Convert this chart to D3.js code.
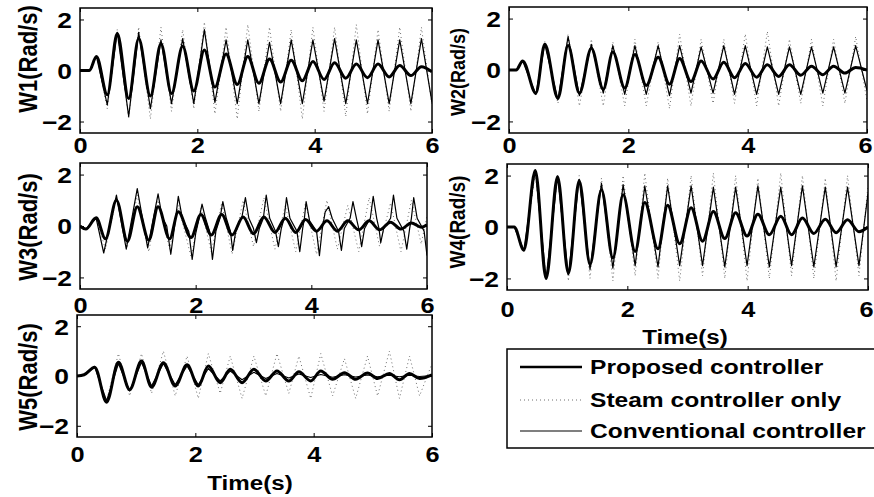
<!DOCTYPE html>
<html>
<head>
<meta charset="utf-8">
<script src="https://cdn.jsdelivr.net/npm/d3@7"></script>
<style>
  html, body { margin: 0; padding: 0; background: #fff; }
  svg { display: block; }
  text { font-family: "Liberation Sans", Arial, sans-serif; font-weight: bold; fill: #000; }
</style>
</head>
<body>
<svg id="chart" width="874" height="497"></svg>
<script>
// ---- data: rotor speed deviations, extrema of each oscillation ----
const xTicks = [0, 2, 4, 6];
const yTicks = [-2, 0, 2];
const seriesNames = ["Proposed controller", "Steam controller only", "Conventional controller"];

const tW1 = [0, 0.16, 0.28, 0.465, 0.635, 0.83, 1.0, 1.2, 1.38, 1.56, 1.75, 1.94, 2.12, 2.3, 2.49, 2.68, 2.86, 3.05, 3.23, 3.42,
  3.6, 3.79, 3.97, 4.16, 4.34, 4.53, 4.71, 4.9, 5.08, 5.27, 5.45, 5.64, 5.82, 6.0];
const w1Proposed = [0, 0, 0.55, -0.95, 1.45, -1.1, 1.25, -1.0, 1.05, -0.9, 0.95, -0.8, 0.8, -0.65, 0.65, -0.55, 0.55, -0.5, 0.45, -0.45,
  0.4, -0.4, 0.35, -0.35, 0.3, -0.3, 0.25, -0.28, 0.25, -0.25, 0.2, -0.2, 0.15, -0.05];
const w1Steam = [0, 0, 0.6, -1.5, 1.6, -1.9, 1.7, -1.9, 1.7, -1.6, 1.6, -1.5, 1.9, -1.7, 1.7, -1.9, 1.8, -1.6, 1.7, -1.6,
  1.6, -1.9, 1.7, -1.6, 1.7, -1.8, 1.8, -1.7, 1.6, -1.6, 1.7, -1.6, 1.7, -1.4];
const w1Conventional = [0, 0, 0.55, -1.35, 1.5, -1.8, 1.5, -1.5, 1.2, -1.3, 1.25, -1.3, 1.6, -1.25, 1.2, -1.3, 1.2, -1.3, 1.1, -1.3,
  1.2, -1.3, 1.2, -1.2, 1.25, -1.3, 1.2, -1.3, 1.2, -1.3, 1.2, -1.3, 1.25, -1.25];

const tW2 = [0, 0.12, 0.23, 0.45, 0.6, 0.82, 0.99, 1.18, 1.38, 1.58, 1.74, 1.94, 2.11, 2.3, 2.5, 2.69, 2.86, 3.05, 3.22, 3.42,
  3.6, 3.78, 3.96, 4.15, 4.33, 4.52, 4.7, 4.89, 5.07, 5.26, 5.44, 5.63, 5.81, 6.0];
const w2Proposed = [0, 0, 0.35, -0.9, 1.0, -1.1, 0.95, -0.9, 0.85, -0.75, 0.7, -0.7, 0.6, -0.6, 0.5, -0.55, 0.45, -0.45, 0.35, -0.35,
  0.3, -0.3, 0.25, -0.28, 0.2, -0.25, 0.2, -0.2, 0.15, -0.18, 0.15, -0.12, 0.1, 0];
const w2Steam = [0, 0, 0.4, -1.0, 1.1, -1.3, 1.4, -1.4, 1.2, -1.4, 1.1, -1.4, 1.2, -1.4, 1.1, -1.5, 1.4, -1.4, 1.2, -1.3,
  1.2, -1.3, 1.4, -1.4, 1.5, -1.4, 1.2, -1.3, 1.2, -1.4, 1.2, -1.3, 1.3, -1.2];
const w2Conventional = [0, 0, 0.35, -0.95, 1.0, -1.15, 1.3, -1.0, 1.0, -0.9, 0.95, -0.95, 0.95, -0.95, 0.95, -1.0, 0.95, -0.9, 0.9, -0.9,
  0.95, -0.95, 0.95, -0.95, 0.9, -0.95, 0.9, -0.95, 0.9, -0.9, 0.9, -0.9, 0.95, -0.8];

const tW3 = [0, 0.1, 0.28, 0.44, 0.63, 0.82, 0.99, 1.19, 1.35, 1.55, 1.7, 1.92, 2.09, 2.27, 2.45, 2.63, 2.82, 3.0, 3.18, 3.37,
  3.55, 3.73, 3.9, 4.09, 4.27, 4.45, 4.63, 4.82, 5.0, 5.18, 5.37, 5.55, 5.73, 5.9, 6.0];
const w3Proposed = [0, -0.12, 0.32, -0.5, 1.0, -0.6, 0.75, -0.55, 0.75, -0.5, 0.55, -0.45, 0.45, -0.35, 0.45, -0.35, 0.35, -0.3, 0.35, -0.25,
  0.3, -0.25, 0.25, -0.2, 0.2, -0.2, 0.2, -0.15, 0.2, -0.15, 0.15, -0.12, 0.12, -0.05, 0.05];
const w3Steam = [0, -0.1, 0.3, -0.9, 1.1, -0.8, 1.2, -1.0, 1.0, -0.9, 0.8, -1.2, 0.7, -1.0, 0.9, -1.1, 1.0, -0.8, 1.1, -0.9,
  0.8, -1.0, 0.9, -1.1, 1.0, -0.9, 0.8, -1.0, 1.1, -0.8, 0.9, -1.0, 1.0, -0.7, 0.4];
// the conventional response in W3 is spiky, so it keeps its own sample times
const tW3Conv = [0, 0.1, 0.28, 0.41, 0.63, 0.8, 0.99, 1.17, 1.35,
  1.42, 1.5, 1.57, 1.63, 1.7, 1.77, 1.88, 1.94, 2.0, 2.06, 2.11, 2.17, 2.24, 2.29, 2.35, 2.42, 2.47, 2.53, 2.6, 2.64, 2.7,
  2.8, 2.86, 2.92, 3.0, 3.05, 3.1, 3.17, 3.22, 3.28, 3.38, 3.43, 3.48, 3.53, 3.57, 3.63, 3.75, 3.8, 3.85, 3.88, 3.91,
  3.97, 4.09, 4.14, 4.19, 4.24, 4.3, 4.36, 4.47, 4.52, 4.57, 4.67, 4.72, 4.78, 4.83, 4.87, 4.92, 5.02, 5.07, 5.13, 5.17,
  5.2, 5.25, 5.37, 5.42, 5.48, 5.6, 5.65, 5.7, 5.73, 5.77, 5.83, 5.95, 6.0];
const w3Conventional = [0, -0.12, 0.3, -1.05, 1.2, -0.9, 1.45, -0.85, 1.25,
  0.35, 0.0, -1.1, -0.1, 1.15, 0.3, -0.2, -1.3, -0.3, 0.3, 0.85, 0.3, -0.2, -1.3, -0.2, 0.3, 0.95, 0.3, -0.2, -0.95, -0.1,
  0.35, 1.1, 0.3, -0.1, -0.65, -0.1, 0.3, 1.2, 0.3, -0.2, -0.8, -0.1, 0.3, 1.1, 0.3, -0.2, -1.0, -0.1, 0.3, 0.95,
  0.2, -0.2, -1.15, -0.1, 0.55, 0.75, 0.3, -0.2, -0.95, -0.1, 0.3, 0.95, 0.3, -0.2, -0.8, -0.1, 0.3, 1.15, 0.3, -0.1,
  -0.65, -0.1, 0.3, 1.2, 0.3, -0.2, -0.9, -0.1, 0.3, 1.1, 0.3, -0.2, -1.15];

const tW4 = [0, 0.12, 0.28, 0.47, 0.65, 0.84, 1.02, 1.2, 1.38, 1.57, 1.76, 1.93, 2.13, 2.29, 2.51, 2.67, 2.87, 3.06, 3.25, 3.43,
  3.62, 3.8, 3.99, 4.17, 4.36, 4.55, 4.73, 4.91, 5.1, 5.29, 5.47, 5.66, 5.85, 6.0];
const w4Proposed = [0, 0, -0.9, 2.2, -2.0, 1.95, -1.8, 1.8, -1.45, 1.45, -1.2, 1.25, -0.95, 0.95, -0.85, 0.85, -0.65, 0.75, -0.55, 0.6,
  -0.45, 0.55, -0.35, 0.5, -0.3, 0.42, -0.3, 0.35, -0.25, 0.3, -0.22, 0.28, -0.18, 0.0];
const w4Steam = [0, 0, -1.0, 2.1, -2.0, 2.0, -2.1, 2.0, -2.0, 1.9, -2.1, 2.0, -1.9, 2.1, -2.0, 1.9, -2.1, 2.0, -1.9, 2.1,
  -2.0, 2.0, -2.1, 1.9, -2.0, 2.1, -1.9, 2.0, -2.0, 1.9, -2.1, 2.0, -1.9, 1.6];
const w4Conventional = [0, 0, -0.9, 2.2, -2.0, 1.95, -1.85, 1.85, -1.65, 1.7, -1.6, 1.65, -1.5, 1.6, -1.55, 1.6, -1.5, 1.6, -1.5, 1.55,
  -1.55, 1.55, -1.5, 1.6, -1.55, 1.55, -1.5, 1.6, -1.55, 1.55, -1.55, 1.55, -1.5, 1.3];

const tW5 = [0, 0.12, 0.3, 0.5, 0.7, 0.89, 1.09, 1.26, 1.46, 1.66, 1.86, 2.05, 2.22, 2.42, 2.59, 2.79, 2.99, 3.19, 3.38, 3.58,
  3.75, 3.95, 4.12, 4.32, 4.52, 4.71, 4.91, 5.08, 5.28, 5.45, 5.62, 5.79, 6.0];
const w5Proposed = [0, 0.05, 0.35, -1.05, 0.55, -0.55, 0.6, -0.45, 0.53, -0.4, 0.45, -0.4, 0.4, -0.27, 0.27, -0.27, 0.27, -0.2, 0.2, -0.2,
  0.17, -0.2, 0.2, -0.13, 0.13, -0.13, 0.12, -0.1, 0.1, -0.15, 0.1, -0.1, 0.05];
const w5Steam = [0, 0.05, 0.4, -1.0, 0.9, -0.8, 0.9, -0.7, 1.0, -0.8, 0.8, -0.9, 0.9, -0.7, 0.8, -0.9, 0.8, -0.8, 0.9, -0.7,
  0.8, -0.9, 0.9, -0.8, 0.7, -0.9, 0.8, -0.8, 1.0, -0.9, 0.8, -0.8, 0.5];
const w5Conventional = [0, 0.05, 0.35, -1.0, 0.5, -0.6, 0.55, -0.4, 0.5, -0.35, 0.4, -0.35, 0.3, -0.2, 0.2, -0.15, 0.15, -0.1, 0.1, -0.08,
  0.08, -0.06, 0.06, -0.05, 0.05, -0.04, 0.04, -0.03, 0.03, -0.03, 0.03, -0.02, 0.02];

// ---- layout ----
const svg = d3.select("#chart");
svg.append("rect").attr("width", 874).attr("height", 497).attr("fill", "#fff");

const panels = [
  { id: "p1", label: "W1(Rad/s)", box: [80, 432, 8, 133], tickLabY: 153, lab: [28, 59, 22],
    series: [[tW1, w1Steam], [tW1, w1Conventional], [tW1, w1Proposed]] },
  { id: "p2", label: "W2(Rad/s)", box: [509, 867, 7, 133], tickLabY: 153, lab: [458, 72, 18], edge: true,
    series: [[tW2, w2Steam], [tW2, w2Conventional], [tW2, w2Proposed]] },
  { id: "p3", label: "W3(Rad/s)", box: [80, 427, 163, 289], tickLabY: 313, lab: [28, 227, 22],
    series: [[tW3, w3Steam], [tW3Conv, w3Conventional], [tW3, w3Proposed]] },
  { id: "p4", label: "W4(Rad/s)", box: [507, 868, 164, 290], tickLabY: 317, lab: [457, 222, 19], xTitle: [685, 337], edge: true,
    series: [[tW4, w4Steam], [tW4, w4Conventional], [tW4, w4Proposed]] },
  { id: "p5", label: "W5(Rad/s)", box: [77, 432, 315, 437], tickLabY: 462, lab: [28, 377, 22], xTitle: [250, 483],
    series: [[tW5, w5Steam], [tW5, w5Conventional], [tW5, w5Proposed]] }
];

// stroke styles for steam / conventional / proposed
const styles = [
  { stroke: "#6e6e6e", width: 1, dash: "1,3", curve: d3.curveLinear },
  { stroke: "#000", width: 1.2, dash: null, curve: d3.curveLinear },
  { stroke: "#000", width: 3, dash: null, curve: d3.curveMonotoneX }
];

const defs = svg.append("defs");

panels.forEach(p => {
  const [x0, x1, y0, y1] = p.box;
  const x = d3.scaleLinear().domain([0, 6]).range([x0, x1]);
  const y = d3.scaleLinear().domain([-2.45, 2.45]).range([y1, y0]);
  const g = svg.append("g");

  defs.append("clipPath").attr("id", "clip-" + p.id)
    .append("rect").attr("x", x0).attr("y", y0).attr("width", x1 - x0).attr("height", y1 - y0);

  const plot = g.append("g").attr("clip-path", `url(#clip-${p.id})`);
  p.series.forEach(([ts, vs], i) => {
    const st = styles[i];
    const line = d3.line().x(d => x(d[0])).y(d => y(d[1])).curve(st.curve);
    plot.append("path")
      .attr("d", line(ts.map((t, k) => [t, vs[k]])))
      .attr("fill", "none")
      .attr("stroke", st.stroke)
      .attr("stroke-width", st.width)
      .attr("stroke-dasharray", st.dash)
      .attr("stroke-linejoin", "round");
  });

  // inward ticks on all four sides
  const bottom = g.append("g").attr("transform", `translate(0,${y1})`)
    .call(d3.axisBottom(x).tickValues(xTicks).tickSizeInner(-4).tickSizeOuter(0).tickFormat(d3.format("d")));
  g.append("g").attr("transform", `translate(0,${y0})`)
    .call(d3.axisTop(x).tickValues(xTicks).tickSizeInner(-4).tickSizeOuter(0).tickFormat(""));
  const left = g.append("g").attr("transform", `translate(${x0},0)`)
    .call(d3.axisLeft(y).tickValues(yTicks).tickSizeInner(-4).tickSizeOuter(0).tickFormat(d3.format("d")));
  g.append("g").attr("transform", `translate(${x1},0)`)
    .call(d3.axisRight(y).tickValues(yTicks).tickSizeInner(-4).tickSizeOuter(0).tickFormat(""));

  g.selectAll(".domain").remove();
  g.selectAll(".tick line").attr("stroke", "#000").attr("stroke-width", 1);

  bottom.selectAll(".tick text")
    .attr("y", null).attr("dy", null)
    .attr("transform", d => {
      // keep the last label of the right-hand panels inside the page
      const shift = (p.edge && d === 6) ? -2 : 0;
      return `translate(${shift},${p.tickLabY - y1}) scale(1.15,1)`;
    })
    .attr("text-anchor", "middle")
    .style("font-size", "22px");
  left.selectAll(".tick text")
    .attr("x", null).attr("dy", "0.36em")
    .attr("transform", "translate(-8,0) scale(1.2,1)")
    .attr("text-anchor", "end")
    .style("font-size", "22px");
  g.selectAll(".tick text").attr("fill", "#000").attr("font-family", null).attr("font-size", null);

  g.append("rect")
    .attr("x", x0).attr("y", y0).attr("width", x1 - x0).attr("height", y1 - y0)
    .attr("fill", "none").attr("stroke", "#000").attr("stroke-width", 1.5);

  const [lx, ly, ls] = p.lab;
  svg.append("text")
    .attr("transform", `translate(${lx},${ly}) rotate(-90) scale(1,1.15)`)
    .attr("text-anchor", "middle").attr("dy", "0.35em")
    .style("font-size", ls + "px")
    .text(p.label);

  if (p.xTitle) {
    svg.append("text")
      .attr("transform", `translate(${p.xTitle[0]},${p.xTitle[1]}) scale(1.15,1)`)
      .attr("text-anchor", "middle").attr("dy", "0.35em")
      .style("font-size", "21px")
      .text("Time(s)");
  }
});

// ---- legend ----
const legend = svg.append("g");
legend.append("rect")
  .attr("x", 507).attr("y", 349).attr("width", 380).attr("height", 99)
  .attr("fill", "#fff").attr("stroke", "#000").attr("stroke-width", 1.5);
const legendOrder = [2, 0, 1]; // style index for proposed, steam, conventional
const legendY = [367, 400, 431];
legendOrder.forEach((si, row) => {
  const st = styles[si];
  legend.append("line")
    .attr("x1", 520).attr("x2", 582).attr("y1", legendY[row]).attr("y2", legendY[row])
    .attr("stroke", st.stroke).attr("stroke-width", si === 2 ? 2.5 : st.width)
    .attr("stroke-dasharray", st.dash);
  legend.append("text")
    .attr("transform", `translate(590,${legendY[row]}) scale(1.17,1)`)
    .attr("dy", "0.35em")
    .style("font-size", "21px")
    .text(seriesNames[row]);
});
</script>
</body>
</html>
